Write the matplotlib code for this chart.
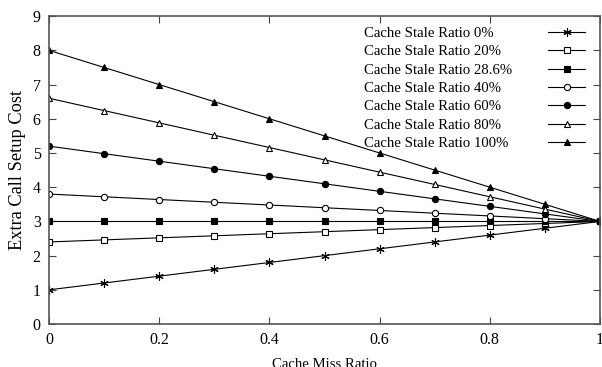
import matplotlib.pyplot as plt
from matplotlib.lines import Line2D

plt.rcParams['font.family'] = ['Liberation Serif', 'DejaVu Serif']

miss = [0, 0.1, 0.2, 0.3, 0.4, 0.5, 0.6, 0.7, 0.8, 0.9, 1.0]
labels = ["Cache Stale Ratio 0%", "Cache Stale Ratio 20%", "Cache Stale Ratio 28.6%",
          "Cache Stale Ratio 40%", "Cache Stale Ratio 60%", "Cache Stale Ratio 80%",
          "Cache Stale Ratio 100%"]
s0 = [1.0, 1.2, 1.4, 1.6, 1.8, 2.0, 2.2, 2.4, 2.6, 2.8, 3.0]
s20 = [2.4, 2.46, 2.52, 2.58, 2.64, 2.7, 2.76, 2.82, 2.88, 2.94, 3.0]
s286 = [3.0, 3.0, 3.0, 3.0, 3.0, 3.0, 3.0, 3.0, 3.0, 3.0, 3.0]
s40 = [3.8, 3.72, 3.64, 3.56, 3.48, 3.4, 3.32, 3.24, 3.16, 3.08, 3.0]
s60 = [5.2, 4.98, 4.76, 4.54, 4.32, 4.1, 3.88, 3.66, 3.44, 3.22, 3.0]
s80 = [6.6, 6.24, 5.88, 5.52, 5.16, 4.8, 4.44, 4.08, 3.72, 3.36, 3.0]
s100 = [8.0, 7.5, 7.0, 6.5, 6.0, 5.5, 5.0, 4.5, 4.0, 3.5, 3.0]

series = [s0, s20, s286, s40, s60, s80, s100]
# marker, filled?
styles = [((6, 2, 0), True), ('s', False), ('s', True), ('o', False),
          ('o', True), ('^', False), ('^', True)]

fig = plt.figure(figsize=(6.02, 3.67), dpi=100)
ax = fig.add_axes([0.0814, 0.117, 0.9153, 0.839])

for i, (ys, lab, (m, filled)) in enumerate(zip(series, labels, styles)):
    ms = 6 if m == (6, 2, 0) else 4.5
    kw = dict(color='black', lw=0.8, marker=m, markersize=ms,
              markerfacecolor='black' if filled else 'white',
              markeredgecolor='black', markeredgewidth=0.8)
    ax.plot(miss, ys, **kw)
    # hand-made legend: text left aligned, sample line on the right
    yy = 0.948 - i * 0.0594
    ax.text(0.572, yy, lab, transform=ax.transAxes, fontsize=10.6,
            ha='left', va='center_baseline')
    ax.add_line(Line2D([0.906, 0.94, 0.973], [yy, yy, yy], transform=ax.transAxes,
                       clip_on=False, markevery=[1], **kw))

ax.set_xlim(0, 1)
ax.set_ylim(0, 9)
ax.set_xticks([0, 0.2, 0.4, 0.6, 0.8, 1])
ax.set_xticklabels(['0', '0.2', '0.4', '0.6', '0.8', '1'])
ax.set_yticks(range(10))
ax.tick_params(direction='in', top=True, right=True, labelsize=11.5, length=5,
               color='#444444', pad=6)
for sp in ax.spines.values():
    sp.set_color('#555555')
    sp.set_linewidth(1.2)

ax.set_xlabel('Cache Miss Ratio', fontsize=10.6, labelpad=7)
ax.set_ylabel('Extra Call Setup Cost', fontsize=13.2, labelpad=5)

fig.savefig('out.png', dpi=100)
